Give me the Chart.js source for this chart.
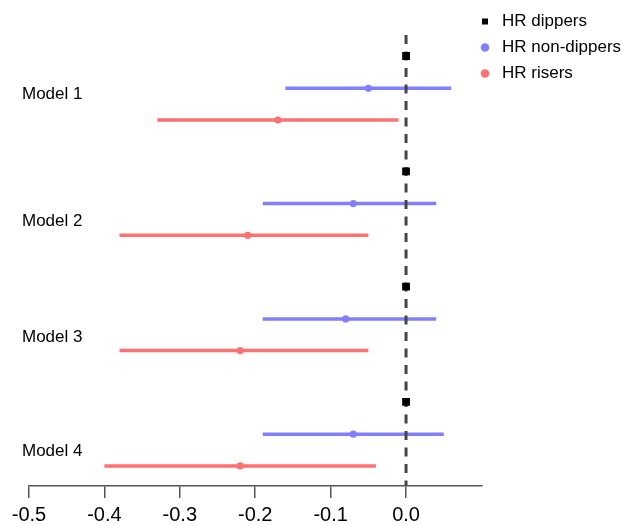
<!DOCTYPE html>
<html>
<head>
<meta charset="utf-8">
<script src="https://cdn.jsdelivr.net/npm/chart.js@4.4.1/dist/chart.umd.min.js"></script>
<style>
html,body{margin:0;padding:0;background:#fff;}
#wrap{width:622px;height:525px;position:relative;}
</style>
</head>
<body>
<div id="wrap"><canvas id="c" width="622" height="525"></canvas></div>
<script>
// ---------- data ----------
const models = ['Model 1', 'Model 2', 'Model 3', 'Model 4'];
const seriesNames = ['HR dippers', 'HR non-dippers', 'HR risers'];
const dippers = [0, 0, 0, 0];
const nonDippersEst = [-0.05, -0.07, -0.08, -0.07];
const nonDippersLow = [-0.16, -0.19, -0.19, -0.19];
const nonDippersHigh = [0.06, 0.04, 0.04, 0.05];
const risersEst = [-0.17, -0.21, -0.22, -0.22];
const risersLow = [-0.33, -0.38, -0.38, -0.40];
const risersHigh = [-0.01, -0.05, -0.05, -0.04];
const xTicks = [-0.5, -0.4, -0.3, -0.2, -0.1, 0.0];
const refValue = 0;

// ---------- layout (row offsets within a model block, in row units) ----------
const OFF_DIP = 0, OFF_NON = 0.28, OFF_RIS = 0.555;
const LABEL_OFF = [0.33, 0.435, 0.44, 0.43];
const Y_MIN = -0.438, Y_MAX = 3.7294, REF_TOP = -0.182;
const LEGEND_LEFT = 467.5, LEGEND_DY = 2;

const BLUE = 'rgb(128,128,255)';
const RED = 'rgb(255,112,112)';

function ciData(lo, hi, off) {
  const out = [];
  lo.forEach((v, i) => {
    out.push({x: v, y: i + off});
    out.push({x: hi[i], y: i + off});
    out.push({x: null, y: null});
  });
  return out;
}

Chart.defaults.font.family = '"Liberation Sans", Arial, Helvetica, sans-serif';
Chart.defaults.color = '#000';

const legendShift = {
  id: 'legendShift',
  afterLayout(chart) {
    const lg = chart.legend;
    if (!lg) return;
    const dx = lg.left - LEGEND_LEFT;
    lg.left -= dx;
    lg.right -= dx;
    lg.top += LEGEND_DY;
    lg.bottom += LEGEND_DY;
  }
};

new Chart(document.getElementById('c'), {
  type: 'scatter',
  data: {
    datasets: [
      {
        label: seriesNames[0],
        data: dippers.map((v, i) => ({x: v, y: i + OFF_DIP})),
        pointStyle: 'rect', pointRadius: 5.5, pointBorderWidth: 0,
        backgroundColor: '#000', borderColor: '#000', borderWidth: 0,
        order: 0
      },
      {
        label: seriesNames[1],
        data: nonDippersEst.map((v, i) => ({x: v, y: i + OFF_NON})),
        pointStyle: 'circle', pointRadius: 3.6, pointBorderWidth: 0,
        backgroundColor: BLUE, borderColor: BLUE, borderWidth: 0,
        order: 1
      },
      {
        label: seriesNames[2],
        data: risersEst.map((v, i) => ({x: v, y: i + OFF_RIS})),
        pointStyle: 'circle', pointRadius: 3.6, pointBorderWidth: 0,
        backgroundColor: RED, borderColor: RED, borderWidth: 0,
        order: 2
      },
      {
        label: 'ref',
        data: [{x: refValue, y: REF_TOP}, {x: refValue, y: Y_MAX}],
        showLine: true, pointRadius: 0,
        borderColor: '#454545', borderWidth: 3, borderDash: [9, 7.5],
        order: 3
      },
      {
        label: 'ci-non',
        data: ciData(nonDippersLow, nonDippersHigh, OFF_NON),
        showLine: true, pointRadius: 0, spanGaps: false,
        borderColor: BLUE, borderWidth: 3.5,
        order: 4
      },
      {
        label: 'ci-ris',
        data: ciData(risersLow, risersHigh, OFF_RIS),
        showLine: true, pointRadius: 0, spanGaps: false,
        borderColor: RED, borderWidth: 3.5,
        order: 5
      }
    ]
  },
  options: {
    responsive: false,
    animation: false,
    events: [],
    layout: {padding: {left: 22, top: 2, right: -12.6, bottom: 0}},
    plugins: {
      tooltip: {enabled: false},
      legend: {
        position: 'right',
        align: 'start',
        labels: {
          usePointStyle: true,
          boxWidth: 17,
          boxHeight: 6,
          padding: 9,
          color: '#000',
          font: {size: 17},
          filter: (it) => it.datasetIndex < 3
        }
      }
    },
    scales: {
      x: {
        type: 'linear',
        position: 'bottom',
        min: -0.5,
        max: 0.1,
        afterBuildTicks: (s) => { s.ticks = xTicks.map(v => ({value: v})); },
        afterFit: (s) => { s.height = 39; },
        ticks: {
          callback: (v) => Number(v).toFixed(1),
          font: {size: 20},
          color: '#000',
          padding: 5.5,
          autoSkip: false,
          maxRotation: 0
        },
        grid: {drawOnChartArea: false, drawTicks: true, tickLength: 12, color: '#555', lineWidth: 1.5},
        border: {display: true, color: '#555', width: 1.5}
      },
      y: {
        type: 'linear',
        position: 'left',
        reverse: true,
        min: Y_MIN,
        max: Y_MAX,
        afterBuildTicks: (s) => { s.ticks = models.map((m, i) => ({value: i + LABEL_OFF[i]})); },
        afterFit: (s) => { s.width = 7; },
        ticks: {
          callback: (v, i) => models[i],
          mirror: true,
          font: {size: 17, lineHeight: 0.1},
          color: '#000',
          padding: -7,
          autoSkip: false
        },
        grid: {display: false},
        border: {display: false}
      }
    }
  },
  plugins: [legendShift]
});
</script>
</body>
</html>
